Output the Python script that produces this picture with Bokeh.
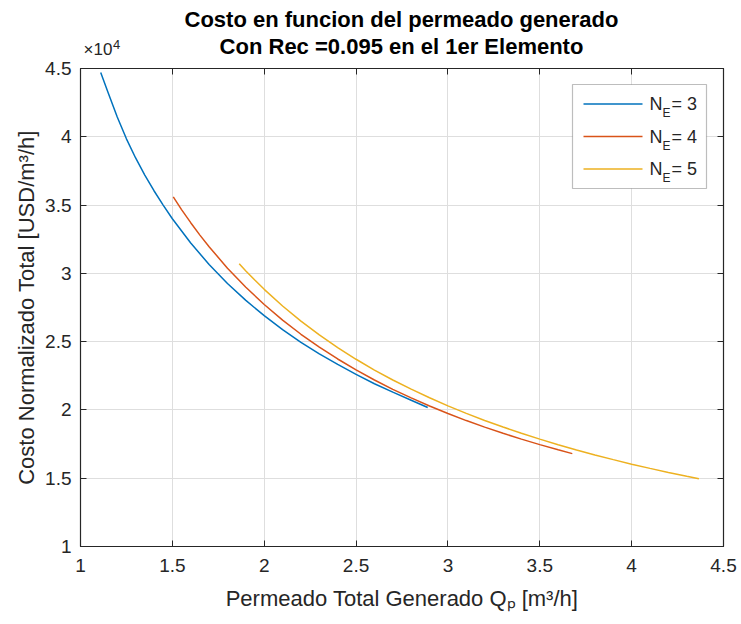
from bokeh.plotting import figure
from bokeh.layouts import column
from bokeh.models import LinearAxis, FixedTicker, Label, BoxAnnotation, Arrow, Range1d
from bokeh.embed import file_html
from bokeh.resources import INLINE

# ---------------- data ----------------
qp_ne3 = [1.11, 1.15, 1.2, 1.25, 1.3, 1.35, 1.4, 1.45, 1.5, 1.6, 1.7, 1.8, 1.9, 2.0,
          2.1, 2.2, 2.3, 2.4, 2.5, 2.6, 2.7, 2.8, 2.89]
cost_ne3 = [44700, 43250, 41450, 39850, 38450, 37200, 36050, 35000, 34000, 32220,
            30650, 29260, 28020, 26900, 25880, 24950, 24100, 23330, 22600, 21920,
            21300, 20710, 20180]

qp_ne4 = [1.505, 1.55, 1.6, 1.65, 1.7, 1.8, 1.9, 2.0, 2.1, 2.2, 2.3, 2.4, 2.5, 2.6,
          2.7, 2.8, 2.9, 3.0, 3.1, 3.2, 3.3, 3.4, 3.5, 3.6, 3.677]
cost_ne4 = [35600, 34670, 33710, 32800, 31950, 30380, 28980, 27720, 26580, 25540,
            24600, 23730, 22930, 22190, 21510, 20880, 20290, 19740, 19220, 18740,
            18290, 17860, 17460, 17080, 16800]

qp_ne5 = [1.864, 1.9, 1.95, 2.0, 2.1, 2.2, 2.3, 2.4, 2.5, 2.6, 2.7, 2.8, 2.9, 3.0,
          3.1, 3.2, 3.3, 3.4, 3.5, 3.6, 3.7, 3.8, 3.9, 4.0, 4.1, 4.2, 4.3, 4.366]
cost_ne5 = [30700, 30180, 29490, 28830, 27610, 26500, 25490, 24560, 23710, 22920,
            22190, 21520, 20890, 20300, 19750, 19230, 18750, 18290, 17860, 17450,
            17070, 16700, 16360, 16030, 15720, 15420, 15140, 14960]

series_names = ["3", "4", "5"]
series_colors = ["#0072BD", "#D95319", "#EDB120"]

x_ticks = [1, 1.5, 2, 2.5, 3, 3.5, 4, 4.5]
x_tick_labels = ["1", "1.5", "2", "2.5", "3", "3.5", "4", "4.5"]
y_ticks = [10000, 15000, 20000, 25000, 30000, 35000, 40000, 45000]
y_tick_labels = ["1", "1.5", "2", "2.5", "3", "3.5", "4", "4.5"]

title_1 = "Costo en funcion del permeado generado"
title_2 = "Con Rec =0.095 en el 1er Elemento"
x_label = "Permeado Total Generado Q\u209a [m\u00b3/h]"
y_label = "Costo Normalizado Total [USD/m\u00b3/h]"

# ---------------- layout ----------------
W, H = 741, 624
BL, BR, BT, BB = 80, 18, 68, 78
HDR = 58                      # header strip holding the titles
X0, X1 = 1, 4.5
Y0, Y1 = 10000, 45000
FW, FH = W - BL - BR, H - BT - BB
FONT = "Liberation Sans"
TXT = "#262626"

def px2x(px):  # page pixel -> data x
    return X0 + (px - BL) / FW * (X1 - X0)

def py2y(py):  # page pixel -> data y (main plot)
    return Y0 + (H - BB - py) / FH * (Y1 - Y0)

xr = Range1d(X0, X1)

# ---------- header (titles + exponent) ----------
hdr = figure(width=W, height=HDR, output_backend="svg", toolbar_location=None,
             x_range=xr, y_range=Range1d(0, HDR),
             min_border_left=BL, min_border_right=BR, min_border_top=0, min_border_bottom=0,
             x_axis_location=None, y_axis_location=None)
hdr.outline_line_color = None
hdr.grid.visible = False
hdr.background_fill_color = "white"
hdr.border_fill_color = "white"

for txt, py in ((title_1, 19), (title_2, 46)):
    hdr.add_layout(Label(x=px2x(401), y=HDR - py, text=txt, text_align="center",
                         text_baseline="middle", text_font=FONT, text_font_size="22px",
                         text_font_style="bold", text_color="black"))
hdr.add_layout(Label(x=px2x(83), y=HDR - 49, text="\u00d710", text_align="left",
                     text_baseline="middle", text_font=FONT, text_font_size="17px",
                     text_color=TXT))
hdr.add_layout(Label(x=px2x(112.5), y=HDR - 43.5, text="4", text_align="left",
                     text_baseline="middle", text_font=FONT, text_font_size="13px",
                     text_color=TXT))

# ---------- main plot ----------
p = figure(width=W, height=H - HDR, output_backend="svg", toolbar_location=None,
           x_range=xr, y_range=Range1d(Y0, Y1),
           min_border_left=BL, min_border_right=BR, min_border_top=BT - HDR,
           min_border_bottom=BB, x_axis_label=x_label, y_axis_label=y_label)
p.background_fill_color = "white"
p.border_fill_color = "white"
p.outline_line_color = TXT
p.outline_line_width = 1.2

xt = FixedTicker(ticks=x_ticks)
yt = FixedTicker(ticks=y_ticks)

for ax, t, labs in ((p.xaxis[0], xt, x_tick_labels), (p.yaxis[0], yt, y_tick_labels)):
    ax.ticker = t
    ax.major_label_overrides = {k: v for k, v in zip(t.ticks, labs)}
    ax.major_tick_in = 6
    ax.major_tick_out = 0
    ax.minor_tick_in = 0
    ax.minor_tick_out = 0
    ax.axis_line_color = TXT
    ax.major_tick_line_color = TXT
    ax.major_label_text_font = FONT
    ax.major_label_text_font_size = "19px"
    ax.major_label_text_color = TXT
    ax.axis_label_text_font = FONT
    ax.axis_label_text_font_size = "22px"
    ax.axis_label_text_font_style = "normal"
    ax.axis_label_text_color = TXT

p.xaxis[0].major_label_standoff = 12
p.xaxis[0].axis_label_standoff = 11
p.yaxis[0].major_label_standoff = 9
p.yaxis[0].axis_label_standoff = 3

for side, t in (("above", xt), ("right", yt)):
    ax = LinearAxis(ticker=t, major_tick_in=6, major_tick_out=0, minor_tick_in=0,
                    minor_tick_out=0, major_label_standoff=0,
                    major_label_overrides={k: "" for k in t.ticks},
                    major_label_text_font_size="0px",
                    axis_line_color=TXT, major_tick_line_color=TXT)
    p.add_layout(ax, side)

p.xgrid.ticker = xt
p.ygrid.ticker = yt
p.xgrid.grid_line_color = "#dedede"
p.ygrid.grid_line_color = "#dedede"

for xs, ys, c in ((qp_ne3, cost_ne3, series_colors[0]),
                  (qp_ne4, cost_ne4, series_colors[1]),
                  (qp_ne5, cost_ne5, series_colors[2])):
    p.line(xs, ys, line_color=c, line_width=1.5)

# ---------------- legend ----------------
p.add_layout(BoxAnnotation(left=px2x(572), right=px2x(706), top=py2y(84), bottom=py2y(188),
                           fill_color="white", fill_alpha=1.0, line_color=TXT,
                           line_width=1.2))
for i, (name, c) in enumerate(zip(series_names, series_colors)):
    ly = 103.5 + i * 32.5
    p.add_layout(Arrow(x_start=px2x(583), y_start=py2y(ly), x_end=px2x(642), y_end=py2y(ly),
                       end=None, line_color=c, line_width=1.5))
    p.add_layout(Label(x=px2x(649), y=py2y(ly), text="N", text_align="left",
                       text_baseline="middle", text_font=FONT, text_font_size="18px",
                       text_color=TXT))
    p.add_layout(Label(x=px2x(662), y=py2y(ly + 9), text="E", text_align="left",
                       text_baseline="middle", text_font=FONT, text_font_size="12px",
                       text_color=TXT))
    p.add_layout(Label(x=px2x(671), y=py2y(ly), text="= " + name, text_align="left",
                       text_baseline="middle", text_font=FONT, text_font_size="18px",
                       text_color=TXT))

layout = column(hdr, p, spacing=0)
open("out.html", "w").write(file_html(layout, INLINE))
